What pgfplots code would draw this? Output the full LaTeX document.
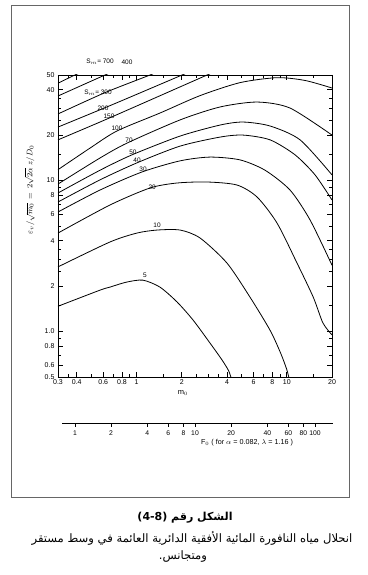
\documentclass[border=0pt]{standalone}
\usepackage{pgfplots}
\pgfplotsset{compat=1.18}
\usepackage{fontspec}
\setmainfont{Liberation Sans}
\newfontfamily\arabicfont[Script=Arabic]{DejaVu Sans}
\TeXXeTstate=1
\begin{document}
\begin{tikzpicture}[x=1pt,y=1pt]
\useasboundingbox (0,0) rectangle (367,575);
\draw[black!60, line width=0.9pt] (11,78) rectangle (349,570);
\begin{axis}[at={(58pt,198pt)}, anchor=south west, scale only axis,
  width=274pt, height=302pt, xmode=log, ymode=log,
  xmin=0.3, xmax=20, ymin=0.5, ymax=50,
  axis line style={line width=0.8pt},
  tick align=inside, major tick length=5.5pt, minor tick length=3.5pt,
  every tick/.style={black, line width=0.6pt},
  xtick={0.3,0.4,0.6,0.8,1,2,4,6,8,10,20},
  xticklabels={0.3,0.4,0.6,0.8,1,2,4,6,8,10,20},
  minor xtick={0.35,0.5,0.7,0.9,1.5,2.5,3,3.5,5,7,9,15},
  ytick={0.5,0.6,0.8,1,2,4,6,8,10,20,40,50},
  yticklabels={0.5,0.6,0.8,1.0,2,4,6,8,10,20,40,50},
  minor ytick={0.7,0.9,1.5,2.5,3,3.5,5,7,9,15,25,30,35},
  tick label style={font=\fontsize{7}{8}\selectfont},
  xticklabel style={yshift=1pt},
  clip mode=individual,
  curve/.style={black, line width=0.8pt, smooth, tension=0.45, mark=none},
]
% S_m = 5
\addplot[curve] coordinates {(0.3,1.47) (0.571,1.88) (0.666,1.97) (0.85,2.12) (1.10,2.19) (1.43,1.97) (1.86,1.57) (2.38,1.19) (3.08,0.84) (3.7,0.65) (4.1,0.55) (4.3,0.48)};
% S_m = 10
\addplot[curve] coordinates {(0.3,2.68) (0.666,3.92) (1.007,4.49) (1.37,4.70) (1.95,4.70) (2.65,4.16) (4.0,2.84) (5.69,1.69) (7.74,1.02) (9.1,0.72) (10.0,0.56) (10.4,0.48)};
% S_m = 20
\addplot[curve] coordinates {(0.3,4.49) (0.666,6.89) (1.23,8.93) (1.86,9.63) (2.95,9.78) (4.66,9.34) (6.34,7.78) (8.61,5.23) (11.7,2.84) (15.0,1.69) (17.4,1.14) (20,0.95)};
% S_m = 30
\addplot[curve] coordinates {(0.3,6.19) (0.571,8.65) (1.088,11.4) (1.948,13.5) (3.084,14.3) (4.884,13.7) (7.17,11.7) (10.51,8.65) (14.29,5.48) (20,2.75)};
% S_m = 40
\addplot[curve] coordinates {(0.3,7.21) (0.571,10.1) (1.007,13.1) (1.948,16.9) (3.594,19.4) (5.115,20.0) (7.74,18.6) (11.35,14.8) (15.42,10.9) (20,7.43)};
% S_m = 50
\addplot[curve] coordinates {(0.3,8.27) (0.571,11.7) (0.933,14.8) (1.948,19.7) (3.594,23.3) (5.115,24.4) (7.74,22.97) (12.26,18.6) (20,10.9)};
% S_m = 70
\addplot[curve] coordinates {(0.3,9.48) (0.571,14.1) (0.864,17.7) (1.948,25.2) (3.594,30.7) (6.34,33.1) (10.51,30.2) (20,20.0)};
% S_m = 100
\addplot[curve] coordinates {(0.3,11.8) (0.490,16.4) (0.741,21.3) (1.433,28.0) (2.645,36.5) (4.884,44.5) (8.62,48.0) (13.23,46.0) (20,41.0)};
% S_m = 150
\addplot[curve] coordinates {(0.3,18.6) (0.656,25.9) (2.95,50) (3.4,53)};
% S_m = 200
\addplot[curve] coordinates {(0.3,22.6) (0.7,32) (2.01,50) (2.3,53)};
% S_m = 300
\addplot[curve] coordinates {(0.3,27.6) (0.62,38.3) (1.23,50) (1.4,53)};
% S_m = 400
\addplot[curve] coordinates {(0.3,36.3) (0.617,50) (0.72,53)};
% S_m = 700
\addplot[curve] coordinates {(0.3,44.1) (0.389,50) (0.45,53)};
\begin{scope}[every node/.style={font=\fontsize{6.5}{7}\selectfont, inner sep=0.5pt}]
\node at (axis cs:0.571,61) {S$_m$= 700};
\node at (axis cs:0.864,61) {400};
\node at (axis cs:0.554,38) {S$_m$= 300};
\node at (axis cs:0.598,30.2) {200};
\node at (axis cs:0.656,26.8) {150};
\node at (axis cs:0.741,22.3) {100};
\node at (axis cs:0.891,18.6) {70};
\node at (axis cs:0.947,15.45) {50};
\node at (axis cs:1.007,13.7) {40};
\node at (axis cs:1.104,11.9) {30};
\node at (axis cs:1.27,9.06) {20};
\node at (axis cs:1.37,5.08) {10};
\node at (axis cs:1.139,2.37) {5};
\end{scope}
\end{axis}
\begin{axis}[at={(62pt,152pt)}, anchor=south west, scale only axis,
  width=271pt, height=20pt, xmode=log, xmin=0.78, xmax=141, ymin=0, ymax=1,
  axis x line*=bottom, axis y line=none,
  axis line style={line width=0.8pt},
  xtick={1,2,4,6,8,10,20,40,60,80,100},
  xticklabels={1,2,4,6,8,10,20,40,60,80,100},
  xminorticks=false, xtick align=outside, major tick length=4pt,
  every tick/.style={black, line width=0.6pt},
  tick label style={font=\fontsize{6.8}{7}\selectfont},
]
\addplot[draw=none] coordinates {(1,0.5) (100,0.5)};
\end{axis}
\node[rotate=90, font=\fontsize{8.5}{9}\selectfont] at (30,385) {$\varepsilon_v/\sqrt{m_0}\,=\,2\sqrt{2\alpha}\;z/D_0$};
\node[font=\fontsize{7.5}{8}\selectfont] at (183,182) {m$_0$};
\node[font=\fontsize{7.2}{8}\selectfont] at (247,132) {F$_0$ ( for $\alpha$ = 0.082, $\lambda$ = 1.16 )};
\node[font=\arabicfont\bfseries\fontsize{11}{12}\selectfont] at (185,57) {\beginR الشكل رقم \beginL(4-8)\endL\endR};
\node[font=\arabicfont\fontsize{11.6}{12}\selectfont] at (192,37) {\beginR انحلال مياه النافورة المائية الأفقية الدائرية العائمة في وسط مستقر\endR};
\node[font=\arabicfont\fontsize{11.6}{12}\selectfont] at (183,18) {\beginR ومتجانس.\endR};
\end{tikzpicture}
\end{document}
